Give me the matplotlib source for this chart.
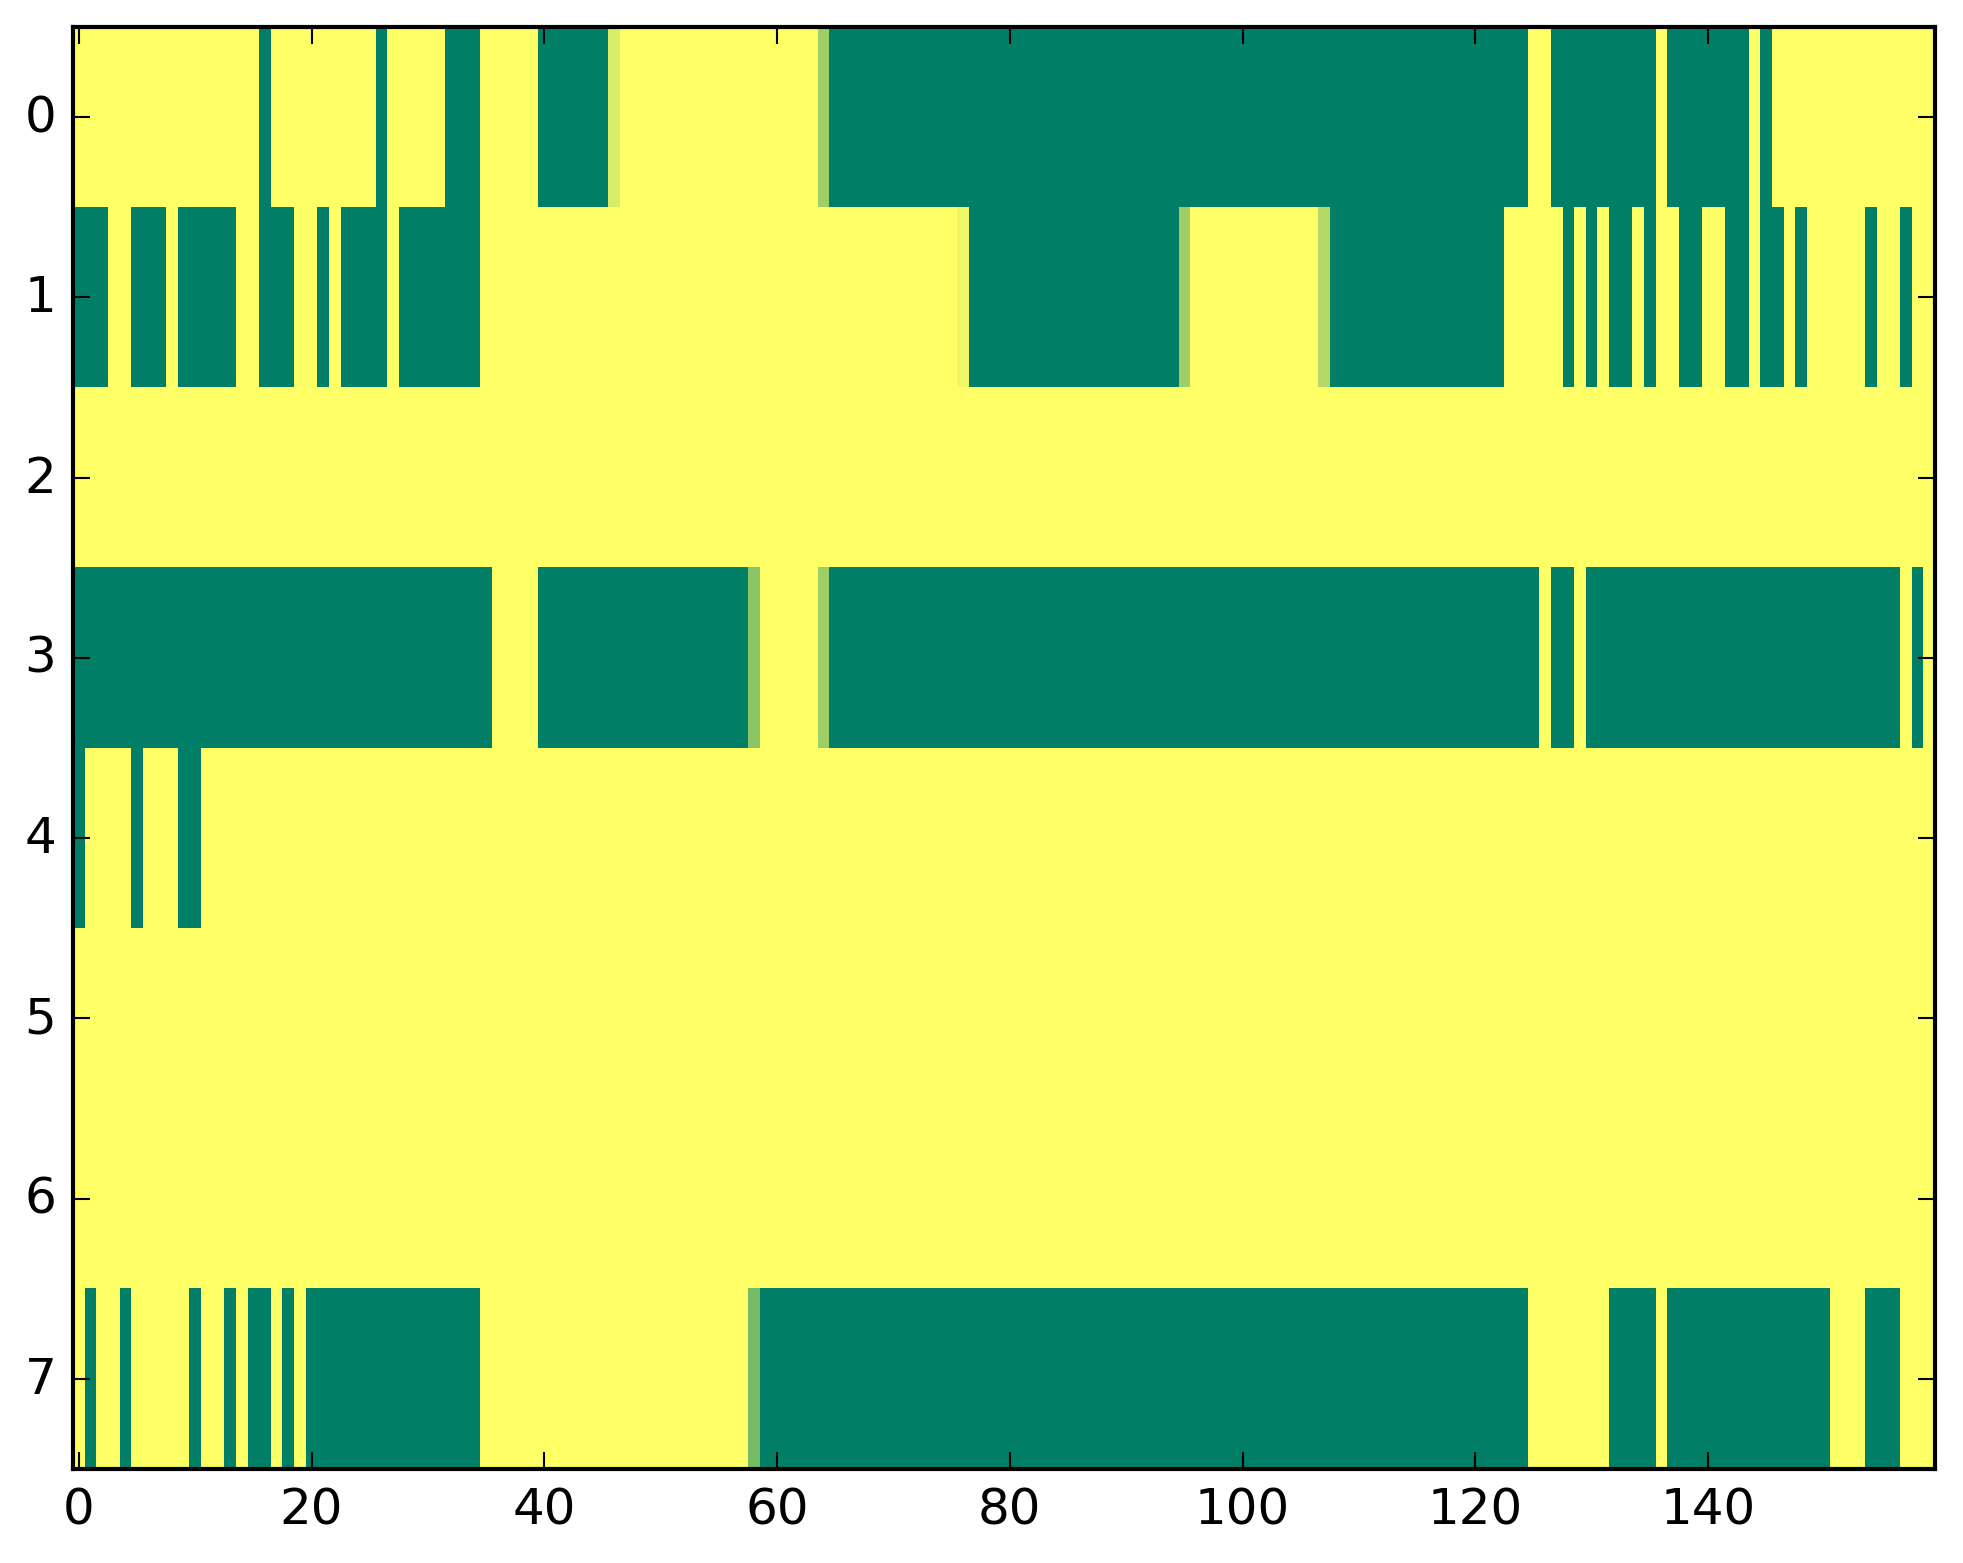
import numpy as np
import matplotlib
matplotlib.use("Agg")
import matplotlib.pyplot as plt

plt.style.use("classic")

n_cols = 160
n_rows = 8

# green (value 0) column runs per row, inclusive; everything else is 1
row0_low = [(16, 16), (26, 26), (32, 34), (40, 45), (65, 124), (127, 135),
            (137, 143), (145, 145)]
row1_low = [(0, 2), (5, 7), (9, 13), (16, 18), (21, 21), (23, 26), (28, 34),
            (77, 94), (108, 122), (128, 128), (130, 130), (132, 133),
            (135, 135), (138, 139), (142, 143), (145, 146), (148, 148),
            (154, 154), (157, 157)]
row2_low = []
row3_low = [(0, 35), (40, 57), (65, 125), (127, 128), (130, 156), (158, 158)]
row4_low = [(0, 0), (5, 5), (9, 10)]
row5_low = []
row6_low = []
row7_low = [(1, 1), (4, 4), (10, 10), (13, 13), (15, 16), (18, 18), (20, 34),
            (59, 124), (132, 135), (137, 150), (154, 156)]

# in-between cells: (row, col, value)
partial_cells = [(0, 46, 0.85), (0, 64, 0.62), (1, 76, 0.94), (1, 95, 0.62),
                 (1, 107, 0.70), (3, 58, 0.55), (3, 64, 0.62), (7, 58, 0.47)]

runs = [row0_low, row1_low, row2_low, row3_low,
        row4_low, row5_low, row6_low, row7_low]

data = np.ones((n_rows, n_cols))
for r, row_runs in enumerate(runs):
    for a, b in row_runs:
        data[r, a:b + 1] = 0.0
for r, c, v in partial_cells:
    data[r, c] = v

fig = plt.figure(figsize=(1963 / 300, 1564 / 300), dpi=300)
ax = fig.add_axes([0.0372, 0.0601, 0.9485, 0.9219])
ax.imshow(data, cmap="summer", vmin=0, vmax=1, aspect="auto",
          interpolation="nearest")
ax.set_xticks(np.arange(0, 160, 20))
ax.set_yticks(np.arange(0, 8))
ax.set_xlim(-0.5, n_cols - 0.5)
ax.set_ylim(n_rows - 0.5, -0.5)
ax.tick_params(labelsize=12)

fig.savefig("out.png", dpi=300)
